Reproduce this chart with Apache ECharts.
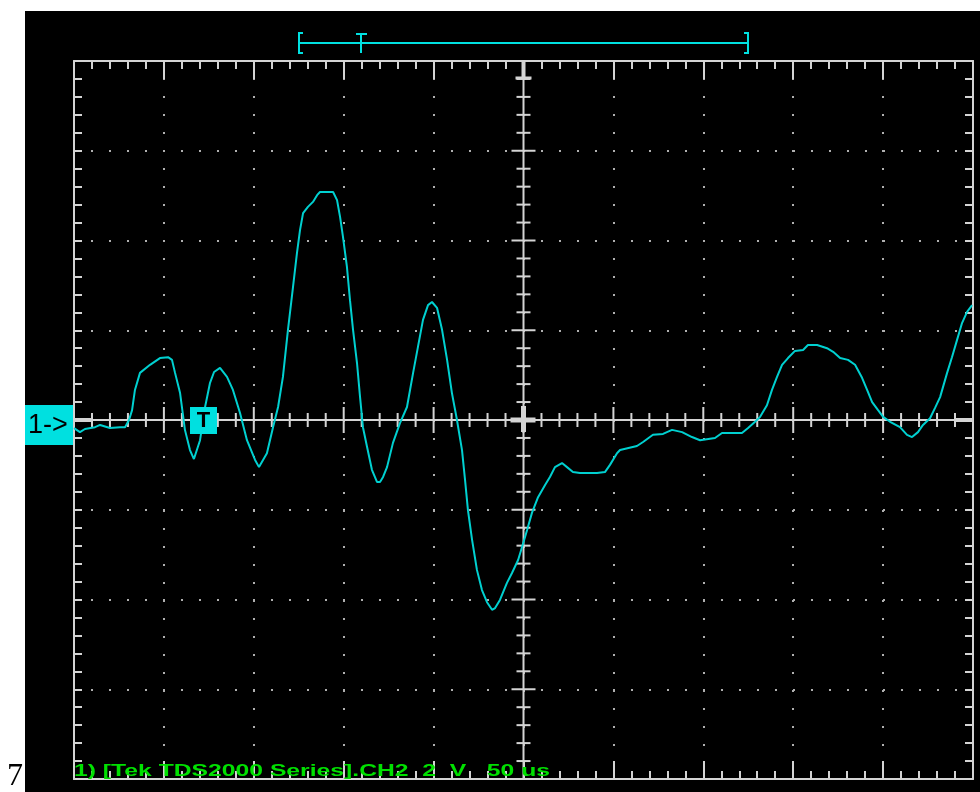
<!DOCTYPE html>
<html>
<head>
<meta charset="utf-8">
<title>TDS2000 CH2</title>
<script src="https://cdn.jsdelivr.net/npm/echarts@6/dist/echarts.min.js"></script>
<style>
  html, body { margin: 0; padding: 0; background: #ffffff; }
  #chart { width: 980px; height: 792px; }
</style>
</head>
<body>
<div id="chart"></div>
<script>
// CH2 acquisition: time in microseconds, voltage in volts
const timeUs = [
  0, 3.3, 6.1, 11.7, 14.5, 20.0, 25.6, 28.4, 30.6, 32.3, 33.9, 36.7, 42.3, 47.8, 52.3, 54.5,
  56.2, 59.0, 61.7, 64.5, 66.7, 70.1, 72.9, 75.6, 77.9, 81.2, 85.1, 88.4, 92.3, 96.2, 100.7,
  102.9, 107.3, 110.7, 113.5, 116.2, 119.0, 121.8, 124.0, 125.7, 127.4, 130.1, 132.9, 135.2,
  136.8, 144.1, 146.3, 148.0, 149.6, 151.8, 153.5, 155.2, 157.4, 159.1, 160.7, 163.0, 165.7,
  168.5, 170.2, 171.9, 174.1, 177.4, 181.3, 185.2, 188.6, 191.3, 194.1, 196.9, 199.1, 201.9,
  204.7, 207.5, 210.2, 213.0, 215.8, 217.5, 219.1, 221.4, 224.1, 226.9, 229.7, 232.5, 234.2,
  236.9, 240.8, 243.6, 247.0, 249.2, 252.0, 254.7, 258.1, 262.0, 264.7, 267.5, 271.4, 274.2,
  277.5, 281.4, 287.0, 290.9, 295.3, 298.1, 302.0, 303.7, 313.1, 316.5, 322.0, 327.6, 332.6,
  338.2, 343.7, 348.2, 356.5, 360.4, 366.5, 371.5, 374.9, 378.8, 381.6, 385.4, 388.2, 391.0,
  393.8, 397.1, 401.0, 405.5, 408.2, 413.3, 418.8, 422.2, 426.1, 430.5, 434.4, 438.3, 441.1,
  443.9, 447.2, 450.0, 453.9, 459.4, 463.3, 466.1, 469.4, 472.2, 476.1, 478.9, 481.7, 485.6,
  488.3, 491.1, 493.9, 496.7, 499.5
];
const voltsV = [
  -0.18, -0.27, -0.20, -0.16, -0.11, -0.18, -0.16, -0.16, 0.00, 0.22, 0.67, 1.05, 1.23, 1.38, 1.40, 1.34,
  1.05, 0.60, -0.22, -0.67, -0.87, -0.45, 0.29, 0.82, 1.07, 1.16, 0.96, 0.67, 0.16, -0.45, -0.89,
  -1.05, -0.74, -0.16, 0.29, 0.96, 2.01, 2.96, 3.72, 4.23, 4.61, 4.75, 4.86, 5.01,
  5.08, 5.08, 4.90, 4.52, 4.08, 3.41, 2.67, 2.01, 1.27, 0.51, -0.16, -0.60, -1.11,
  -1.38, -1.38, -1.27, -1.05, -0.51, -0.07, 0.29, 1.05, 1.63, 2.23, 2.56, 2.63, 2.50,
  2.01, 1.34, 0.60, 0.00, -0.67, -1.34, -2.01, -2.67, -3.34, -3.79, -4.06, -4.23, -4.19,
  -4.01, -3.63, -3.41, -3.12, -2.83, -2.45, -2.07, -1.72, -1.45, -1.27, -1.05, -0.96, -1.05,
  -1.16, -1.18, -1.18, -1.18, -1.16, -1.00, -0.74, -0.67, -0.58, -0.49, -0.33, -0.31, -0.22,
  -0.27, -0.38, -0.45, -0.40, -0.29, -0.29, -0.29, -0.18, -0.04, 0.07, 0.33, 0.67, 0.96,
  1.23, 1.38, 1.54, 1.56, 1.67, 1.67, 1.60, 1.52, 1.38, 1.34, 1.23, 0.94, 0.67,
  0.40, 0.22, 0.07, -0.04, -0.16, -0.33, -0.38, -0.27, -0.11, 0.04, 0.27, 0.51, 1.05,
  1.40, 1.78, 2.16, 2.41, 2.56
];

// Screen graticule: 10 horizontal x 8 vertical divisions, 5 minor steps each
const timeRange = [0, 500];      // µs
const timePerDiv = 50;           // µs/div
const voltRange = [-8, 8];       // V
const voltsPerDiv = 2;           // V/div
const minorSteps = 5;

const statusText = '1) [Tek TDS2000 Series].CH2  2  V   50 us';
const channelMarker = '1->';
const triggerMarker = 'T';
const pageNote = '7';

const traceColor = '#00d0d0';
const markerColor = '#00e0e0';
const frameColor = '#d4d4d4';
const dotColor = '#b0b0b0';
const textGreen = '#00e000';

const trace = timeUs.map((t, i) => [t, voltsV[i]]);

// status line is stretched to the width it spans along the bottom edge
const statusFont = 'bold 17px "Liberation Sans", Arial, sans-serif';
const statusScale = (function () {
  const ctx = document.createElement('canvas').getContext('2d');
  ctx.font = statusFont;
  return 476 / ctx.measureText(statusText).width;
})();

const chart = echarts.init(document.getElementById('chart'), null, { renderer: 'canvas' });

function borderAxis(pos, isX, withSplit) {
  return {
    gridIndex: 0,
    type: 'value',
    position: pos,
    min: isX ? timeRange[0] : voltRange[0],
    max: isX ? timeRange[1] : voltRange[1],
    interval: isX ? timePerDiv : voltsPerDiv,
    axisLine: { show: true, onZero: false, lineStyle: { color: frameColor, width: 2 } },
    axisTick: { show: true, inside: true, length: isX ? 18 : 8, lineStyle: { color: frameColor, width: 2 } },
    minorTick: { show: true, splitNumber: minorSteps, length: 8, lineStyle: { color: frameColor, width: 2 } },
    axisLabel: { show: false },
    splitLine: {
      show: withSplit,
      lineStyle: { color: dotColor, width: 2, type: [2, 16], dashOffset: 1 }
    },
    minorSplitLine: { show: false }
  };
}

// Centre crosshair of the graticule with its tick marks
function renderCrosshair(params, api) {
  const kids = [];
  const seg = (x1, y1, x2, y2, w) => kids.push({
    type: 'line',
    shape: { x1, y1, x2, y2 },
    style: { stroke: frameColor, lineWidth: w }
  });
  const tMid = (timeRange[0] + timeRange[1]) / 2;
  const left = api.coord([timeRange[0], 0]);
  const right = api.coord([timeRange[1], 0]);
  const top = api.coord([tMid, voltRange[1]]);
  const bottom = api.coord([tMid, voltRange[0]]);
  const cx = top[0], cy = left[1];
  seg(left[0], cy, right[0], cy, 2);
  seg(cx, top[1], cx, bottom[1], 2);
  const tStep = timePerDiv / minorSteps;
  const nT = Math.round((timeRange[1] - timeRange[0]) / tStep);
  for (let i = 1; i < nT; i++) {
    const x = api.coord([timeRange[0] + i * tStep, 0])[0];
    const h = i % minorSteps === 0 ? 13 : 7;
    seg(x, cy - h, x, cy + h, 2);
  }
  const vStep = voltsPerDiv / minorSteps;
  const nV = Math.round((voltRange[1] - voltRange[0]) / vStep);
  for (let i = 1; i < nV; i++) {
    const y = api.coord([tMid, voltRange[0] + i * vStep])[1];
    const h = i % minorSteps === 0 ? 12 : 7;
    seg(cx - h, y, cx + h, y, 2);
  }
  // heavier centre cross and edge markers
  seg(cx - 13, cy, cx + 12, cy, 5);
  seg(cx, cy - 14, cx, cy + 12, 5);
  seg(left[0], cy, left[0] + 18, cy, 4);
  seg(right[0] - 18, cy, right[0], cy, 4);
  seg(cx, top[1], cx, top[1] + 17, 4);
  seg(cx - 8, top[1] + 17, cx + 8, top[1] + 17, 3);
  return { type: 'group', children: kids };
}

const option = {
  animation: false,
  backgroundColor: '#ffffff',
  grid: [{ left: 74, top: 61, width: 899, height: 718, outerBoundsMode: 'none', containLabel: false }],
  xAxis: [borderAxis('bottom', true, true), borderAxis('top', true, false)],
  yAxis: [borderAxis('left', false, true), borderAxis('right', false, false)],
  series: [
    {
      type: 'custom',
      xAxisIndex: 0, yAxisIndex: 0,
      silent: true,
      clip: false,
      z: 1,
      data: [[timeRange[0], 0]],
      renderItem: renderCrosshair
    },
    {
      type: 'line',
      name: 'CH2',
      xAxisIndex: 0, yAxisIndex: 0,
      data: trace,
      showSymbol: false,
      symbol: 'none',
      smooth: false,
      silent: true,
      z: 3,
      lineStyle: { color: traceColor, width: 2 }
    }
  ],
  graphic: [
    // scope screen
    { type: 'rect', z: -100, silent: true, shape: { x: 25, y: 11, width: 955, height: 781 }, style: { fill: '#000000' } },
    // record window bracket with trigger position
    { type: 'polyline', z: 10, shape: { points: [[303, 33], [299, 33], [299, 53], [303, 53]] }, style: { stroke: markerColor, lineWidth: 2, fill: null } },
    { type: 'line', z: 10, shape: { x1: 299, y1: 43, x2: 748, y2: 43 }, style: { stroke: markerColor, lineWidth: 2 } },
    { type: 'line', z: 10, shape: { x1: 361, y1: 33, x2: 361, y2: 53 }, style: { stroke: markerColor, lineWidth: 2 } },
    { type: 'line', z: 10, shape: { x1: 356, y1: 34, x2: 367, y2: 34 }, style: { stroke: markerColor, lineWidth: 2 } },
    { type: 'polyline', z: 10, shape: { points: [[744, 33], [748, 33], [748, 53], [744, 53]] }, style: { stroke: markerColor, lineWidth: 2, fill: null } },
    // channel ground marker
    { type: 'rect', z: 10, shape: { x: 25, y: 405, width: 48, height: 40 }, style: { fill: markerColor } },
    { type: 'text', z: 11, style: { x: 28, y: 426, text: channelMarker, fill: '#000000', font: '27px "Liberation Sans", Arial, sans-serif', verticalAlign: 'middle', align: 'left' } },
    // trigger marker
    { type: 'rect', z: 10, shape: { x: 190, y: 407, width: 27, height: 27 }, style: { fill: markerColor } },
    { type: 'text', z: 11, style: { x: 203.5, y: 421, text: triggerMarker, fill: '#000000', font: 'bold 22px "Liberation Sans", Arial, sans-serif', verticalAlign: 'middle', align: 'center' } },
    // status line
    { type: 'text', z: 11, x: 74, y: 780, scaleX: statusScale, style: { x: 0, y: 0, text: statusText, fill: textGreen, font: statusFont, verticalAlign: 'bottom', align: 'left' } },
    { type: 'text', z: 11, style: { x: 7, y: 793, text: pageNote, fill: '#000000', font: '32px "Liberation Serif", "Times New Roman", serif', verticalAlign: 'bottom', align: 'left' } }
  ]
};

chart.setOption(option);
</script>
</body>
</html>
